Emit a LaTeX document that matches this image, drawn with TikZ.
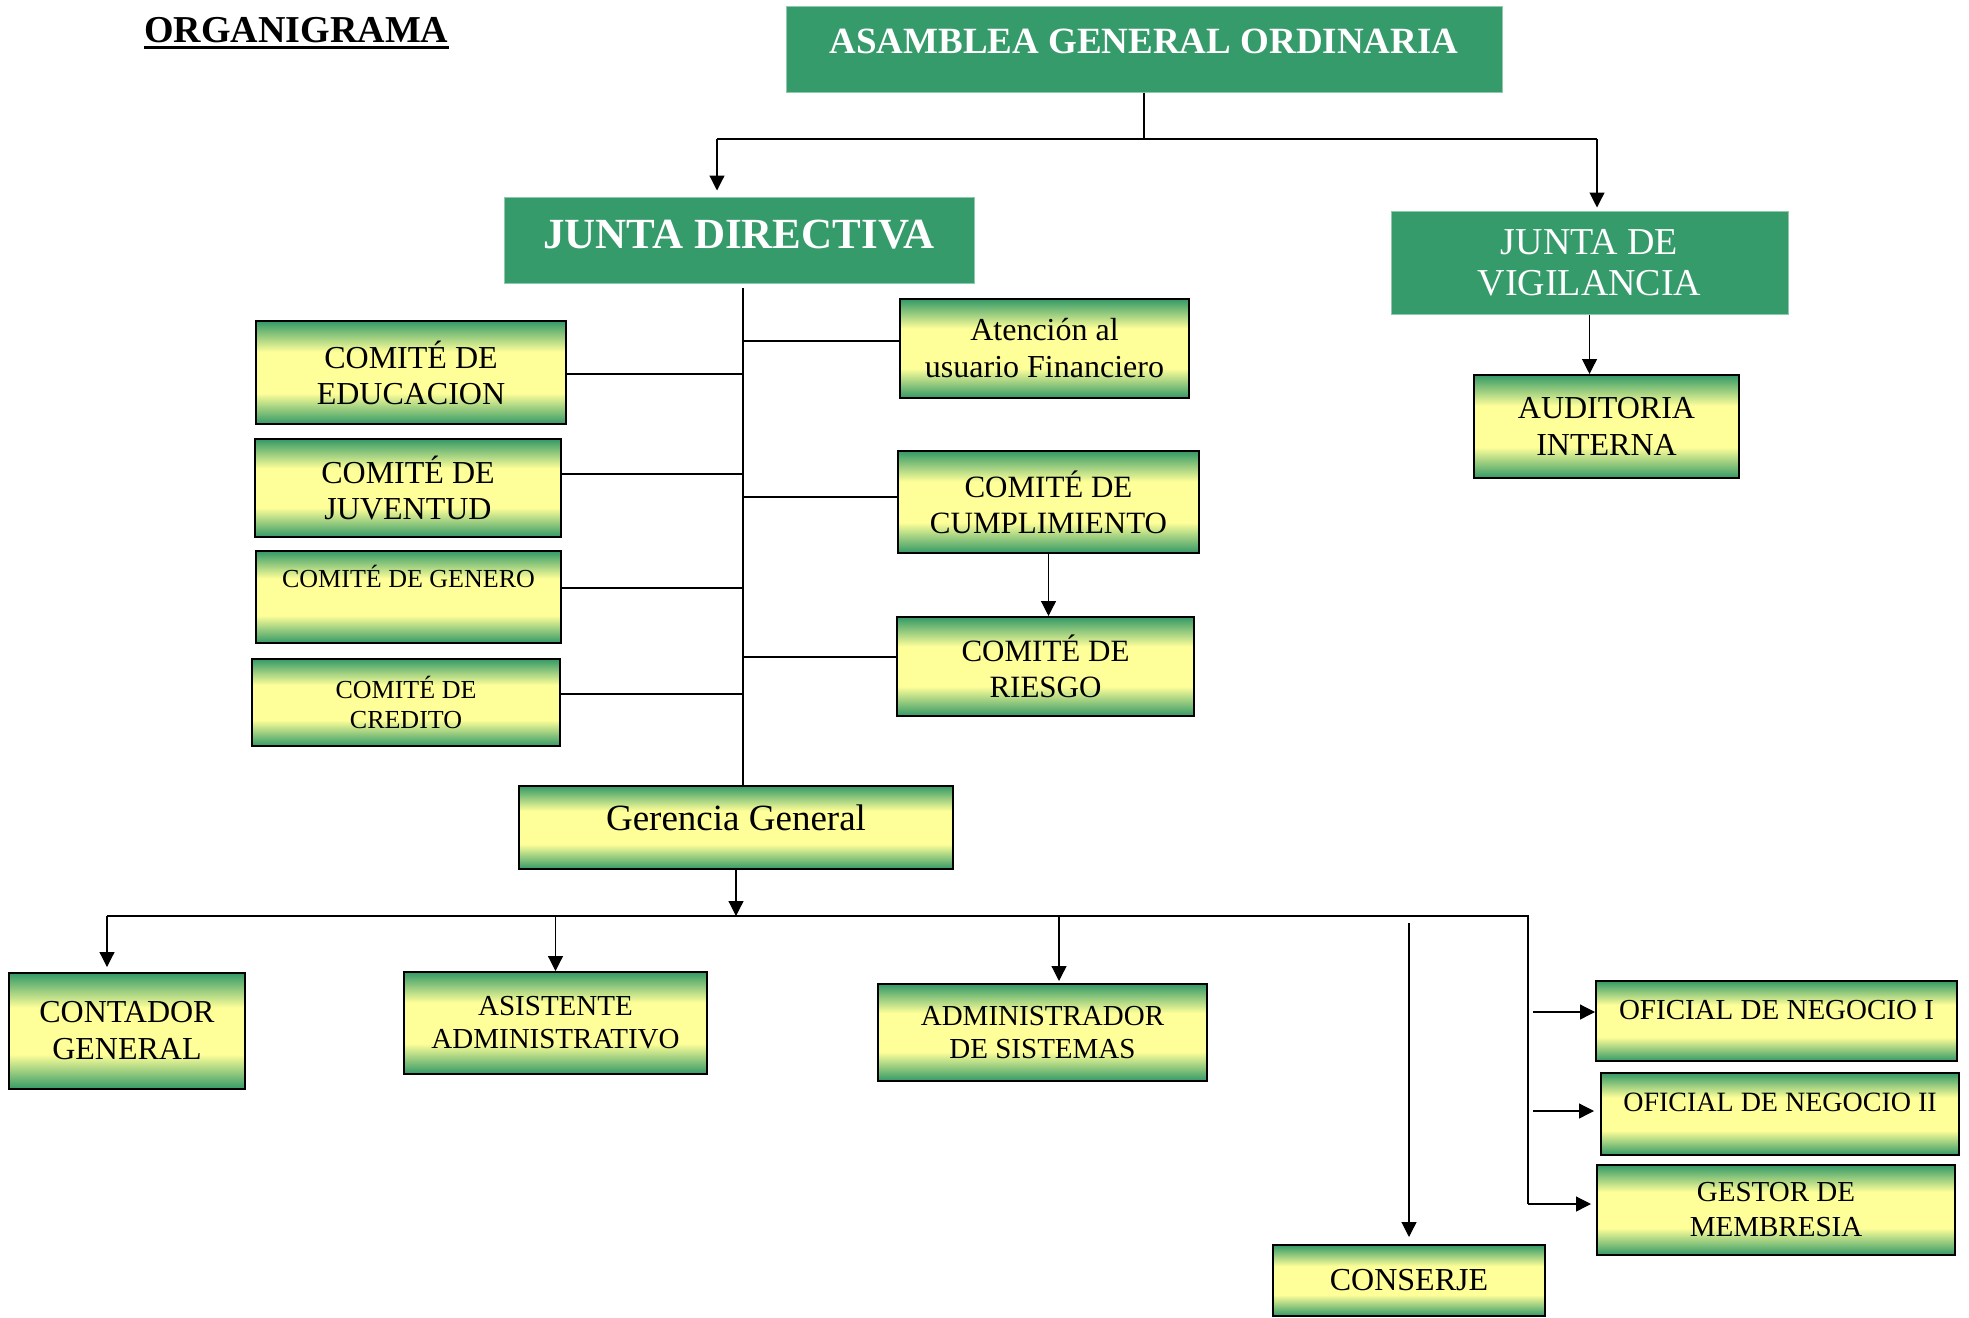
\documentclass[tikz,border=0pt]{standalone}
\usepackage{fontspec}
\setmainfont{Liberation Serif}
\usetikzlibrary{arrows.meta}
\definecolor{hdrgreen}{RGB}{54,155,106}
\definecolor{boxgreen}{RGB}{51,153,102}
\definecolor{boxyellow}{RGB}{255,255,153}
\pgfdeclareverticalshading{greenband}{100bp}{color(0bp)=(boxgreen); color(25bp)=(boxgreen); color(40bp)=(boxyellow); color(60bp)=(boxyellow); color(75bp)=(boxgreen); color(100bp)=(boxgreen)}

\begin{document}
\begin{tikzpicture}[x=0.5pt, y=-0.5pt,
    header/.style={fill=hdrgreen, draw=hdrgreen!55!white, line width=0.5pt, text=white, align=center, inner sep=0pt},
    unit/.style={draw, line width=1pt, shading=greenband, align=center, inner sep=0pt},
    link/.style={line width=0.6pt},
    arr/.style={line width=0.6pt, -{Triangle[length=7.5pt,width=7.5pt]}}]
  \useasboundingbox (0,0) rectangle (1969,1317);

  \node[font=\fontsize{19}{22}\selectfont\bfseries, inner xsep=0pt, inner ysep=2.5pt, anchor=base west] (titulo) at (144,42) {ORGANIGRAMA};
  \draw[line width=1.5pt] (titulo.south west) -- (titulo.south east);

  \node[header, minimum width=358pt, text height=23.5pt, text depth=19.5pt, font=\fontsize{18.5}{21}\selectfont\bfseries] (asamblea) at (1144,49) {ASAMBLEA GENERAL ORDINARIA};
  \node[header, minimum width=235pt, text height=25.5pt, text depth=17.5pt, font=\fontsize{21.5}{24}\selectfont\bfseries] (junta) at (739,240) {JUNTA DIRECTIVA};
  \node[header, minimum width=198.5pt, minimum height=51.5pt, font=\fontsize{19}{20.5}\selectfont] (vigilancia) at (1589.5,262.5) {JUNTA DE\\VIGILANCIA};

  % comites
  \node[unit, minimum width=155pt, minimum height=51.5pt, font=\fontsize{16}{18}\selectfont] (educacion) at (411,372.5) {COMITÉ DE\\EDUCACION};
  \node[unit, minimum width=153pt, minimum height=49pt, font=\fontsize{16}{18}\selectfont] (juventud) at (408,488) {COMITÉ DE\\JUVENTUD};
  \node[unit, minimum width=152.5pt, text height=18pt, text depth=28pt, font=\fontsize{13}{15}\selectfont] (genero) at (408.5,597) {COMITÉ DE GENERO};
  \node[unit, minimum width=154pt, minimum height=43.5pt, font=\fontsize{13}{15}\selectfont] (credito) at (406,702.5) {COMITÉ DE\\CREDITO};
  \node[unit, minimum width=144.5pt, minimum height=49.5pt, font=\fontsize{16}{18.5}\selectfont] (atencion) at (1044.5,348.5) {Atención al\\usuario Financiero};
  \node[unit, minimum width=150.5pt, minimum height=51pt, font=\fontsize{15.5}{18}\selectfont] (cumplimiento) at (1048.5,502) {COMITÉ DE\\CUMPLIMIENTO};
  \node[unit, minimum width=148.5pt, minimum height=49.5pt, font=\fontsize{15.5}{18}\selectfont] (riesgo) at (1045.5,666.5) {COMITÉ DE\\RIESGO};
  \node[unit, minimum width=132.5pt, minimum height=51.5pt, font=\fontsize{16}{18.5}\selectfont] (auditoria) at (1606.5,426.5) {AUDITORIA\\INTERNA};
  \node[unit, minimum width=217pt, text height=22pt, text depth=19.5pt, font=\fontsize{18.5}{21}\selectfont] (gerencia) at (736,827.5) {Gerencia General};

  % personal
  \node[unit, minimum width=118pt, minimum height=58pt, font=\fontsize{16}{18.5}\selectfont] (contador) at (127,1031) {CONTADOR\\GENERAL};
  \node[unit, minimum width=151.5pt, minimum height=51pt, font=\fontsize{14.5}{16.5}\selectfont] (asistente) at (555.5,1023) {ASISTENTE\\ADMINISTRATIVO};
  \node[unit, minimum width=164.5pt, minimum height=48.5pt, font=\fontsize{14.5}{16.5}\selectfont] (sistemas) at (1042.5,1032.5) {ADMINISTRADOR\\DE SISTEMAS};
  \node[unit, minimum width=136pt, minimum height=35.5pt, font=\fontsize{16}{18}\selectfont] (conserje) at (1409,1280.5) {CONSERJE};
  \node[unit, minimum width=180.5pt, text height=19pt, text depth=21pt, font=\fontsize{14.5}{16.5}\selectfont] (oficialuno) at (1776.5,1021) {OFICIAL DE NEGOCIO I};
  \node[unit, minimum width=179pt, text height=19pt, text depth=22pt, font=\fontsize{14}{16}\selectfont] (oficialdos) at (1780,1114) {OFICIAL DE NEGOCIO II};
  \node[unit, minimum width=179pt, minimum height=45pt, font=\fontsize{14.5}{17.5}\selectfont] (gestor) at (1776,1210) {GESTOR DE\\MEMBRESIA};

  \coordinate (busA) at (1144,139);
  \coordinate (busAl) at (717,139);
  \coordinate (busAr) at (1597,139);
  \draw[link] (asamblea.south) -- (busA);
  \draw[link] (busAl) -- (busAr);
  \draw[arr, shorten >=3pt] (busAl) -- (busAl |- junta.north);
  \draw[arr, shorten >=1.5pt] (busAr) -- (busAr |- vigilancia.north);
  \draw[arr] (vigilancia.south) -- (vigilancia.south |- auditoria.north);

  \coordinate (spine) at (743,288);
  \draw[link, line width=0.8pt] (spine) -- (spine |- gerencia.north);
  \foreach \n/\h in {educacion/374, juventud/474, genero/588, credito/694}
    \draw[link] (spine |- 0,\h) -- (\n.east |- 0,\h);
  \foreach \n/\h in {atencion/341, cumplimiento/497, riesgo/657}
    \draw[link] (spine |- 0,\h) -- (\n.west |- 0,\h);
  \draw[arr] (cumplimiento.south) -- (cumplimiento.south |- riesgo.north);

  \coordinate (busG) at (736,916);
  \coordinate (busGl) at (107,916);
  \coordinate (busGr) at (1528,916);
  \coordinate (busGd) at (1528,1204);
  \coordinate (sis) at (1059,916);
  \coordinate (con) at (1409,923);
  \coordinate (ofu) at (1533,1012);
  \coordinate (ofd) at (1533,1111);
  \draw[arr] (gerencia.south) -- (busG);
  \draw[link] (busGl) -- (busGr) -- (busGd);
  \draw[arr, shorten >=2.5pt] (busGl) -- (busGl |- contador.north);
  \draw[arr] (asistente.north |- busG) -- (asistente.north);
  \draw[arr, shorten >=1pt] (sis) -- (sis |- sistemas.north);
  \draw[arr, shorten >=3.5pt] (con) -- (con |- conserje.north);
  \draw[arr] (ofu) -- (ofu -| oficialuno.west);
  \draw[arr, shorten >=3pt] (ofd) -- (ofd -| oficialdos.west);
  \draw[arr, shorten >=2.5pt] (busGd) -- (busGd -| gestor.west);
\end{tikzpicture}
\end{document}
